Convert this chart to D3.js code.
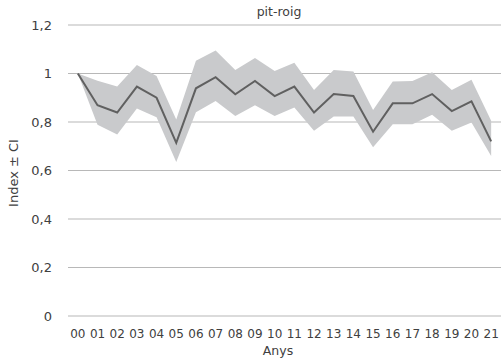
<!DOCTYPE html>
<html><head><meta charset="utf-8">
<script src="https://cdn.jsdelivr.net/npm/d3@7"></script>
<style>body{margin:0;background:#fff}svg{display:block;font-family:"DejaVu Sans",Verdana,sans-serif}</style>
</head><body><svg id="c" width="501" height="361"></svg>
<script>
const years = ["00","01","02","03","04","05","06","07","08","09","10","11","12","13","14","15","16","17","18","19","20","21"];
const index = [1.0,0.869,0.839,0.946,0.90,0.714,0.939,0.985,0.914,0.969,0.907,0.946,0.839,0.915,0.907,0.76,0.877,0.877,0.915,0.845,0.885,0.72];
const upper = [1.0,0.97,0.946,1.035,0.99,0.81,1.053,1.095,1.014,1.064,1.01,1.044,0.932,1.014,1.008,0.85,0.967,0.969,1.005,0.932,0.974,0.805];
const lower = [1.0,0.789,0.748,0.856,0.82,0.635,0.84,0.887,0.825,0.869,0.825,0.86,0.764,0.823,0.823,0.696,0.791,0.791,0.83,0.764,0.798,0.66];
const yTicks = [0,0.2,0.4,0.6,0.8,1,1.2];
const title = "pit-roig", xTitle = "Anys", yTitle = "Index ± CI";

const svg = d3.select("#c");
const m = {l:68, r:0, t:25, b:45};
const W = 501, H = 361;
const x = d3.scaleBand().domain(years).range([m.l, W - m.r]);
const y = d3.scaleLinear().domain([0,1.2]).range([316, 25]);
const cx = d => x(d) + x.bandwidth()/2;
const fmt = v => String(v).replace(".", ",");

// grid
svg.append("g").selectAll("line").data(yTicks).join("line")
  .attr("x1", m.l).attr("x2", W).attr("y1", d => y(d)).attr("y2", d => y(d))
  .attr("stroke", "#b8b8b8").attr("stroke-width", 1.2);

// y tick labels
svg.append("g").selectAll("text").data(yTicks).join("text")
  .attr("x", 52).attr("y", d => y(d)).attr("dy", "0.35em")
  .attr("text-anchor", "end").attr("font-size", 13).attr("fill", "#404040")
  .text(fmt);

// band
const data = years.map((d,i) => ({d, v:index[i], hi:upper[i], lo:lower[i]}));
svg.append("path").datum(data)
  .attr("fill", "#c9cacc")
  .attr("d", d3.area().x(p => cx(p.d)).y0(p => y(p.lo)).y1(p => y(p.hi)));

// line
svg.append("path").datum(data)
  .attr("fill", "none").attr("stroke", "#606060").attr("stroke-width", 2)
  .attr("d", d3.line().x(p => cx(p.d)).y(p => y(p.v)));

// x labels
svg.append("g").selectAll("text").data(years).join("text")
  .attr("x", d => cx(d)).attr("y", 338)
  .attr("text-anchor", "middle").attr("font-size", 12).attr("fill", "#404040")
  .text(d => d);

svg.append("text").attr("x", 278).attr("y", 355).attr("text-anchor", "middle")
  .attr("font-size", 12.5).attr("fill", "#404040").text(xTitle);
svg.append("text").attr("x", 279).attr("y", 16).attr("text-anchor", "middle")
  .attr("font-size", 12.5).attr("fill", "#404040").text(title);
svg.append("text").attr("transform", "translate(18,173) rotate(-90)").attr("text-anchor", "middle")
  .attr("font-size", 13).attr("fill", "#404040").text(yTitle);
</script></body></html>
